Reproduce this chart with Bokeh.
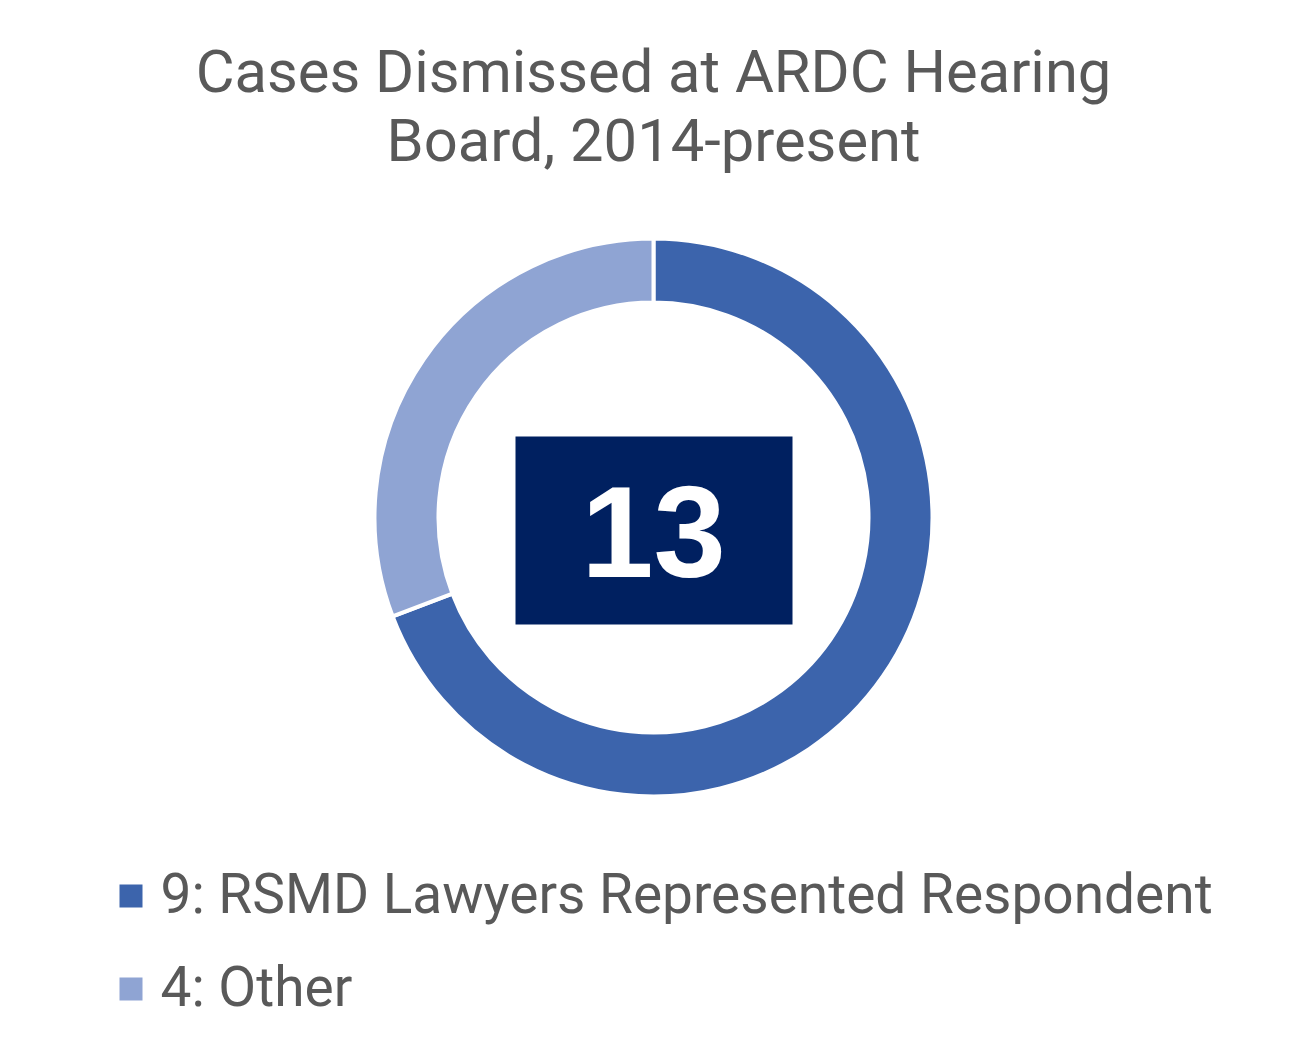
import math
from bokeh.plotting import figure
from bokeh.models import Range1d, ColumnDataSource
from bokeh.core.properties import value
from bokeh.embed import file_html
from bokeh.resources import INLINE

# ---- data ----
title_lines = ["Cases Dismissed at ARDC Hearing", "Board, 2014-present"]
categories = ["RSMD Lawyers Represented Respondent", "Other"]
counts = [9, 4]
colors = ["#3C64AC", "#8FA4D3"]
total_label = str(sum(counts))

W, H = 1290, 1040
p = figure(width=W, height=H, x_range=Range1d(0, W), y_range=Range1d(0, H),
           output_backend="svg", toolbar_location=None, min_border=0)
p.axis.visible = False
p.grid.visible = False
p.outline_line_color = None
p.background_fill_color = "white"
p.border_fill_color = "white"

TXT = "#595959"


def Y(top):
    return H - top


cx, cy = 653, Y(517)

# wedge angles (clockwise from top)
total = sum(counts)
starts, ends = [], []
a = math.pi / 2
for c in counts:
    starts.append(a)
    a = a - c / total * 2 * math.pi
    ends.append(a)

src = ColumnDataSource(dict(x=[cx] * len(counts), y=[cy] * len(counts),
                            start=starts, end=ends, color=colors))
p.annular_wedge(x="x", y="y", inner_radius=215, outer_radius=279,
                inner_radius_units="screen", outer_radius_units="screen",
                start_angle="start", end_angle="end", direction="clock",
                fill_color="color", line_color="white", line_width=4, source=src)

# centre box
p.quad(left=[515], right=[792], bottom=[Y(624)], top=[Y(436)],
       fill_color="#002060", line_color=None)
p.text(x=[cx], y=[Y(531)], text=[total_label], text_align="center",
       text_baseline="alphabetic", text_color="white",
       text_font=value("Liberation Sans"), text_font_style="bold",
       text_font_size="130px")

# title
p.text(x=[cx, cx], y=[Y(71), Y(140)], text=title_lines, text_align="center",
       text_baseline="alphabetic", text_color=TXT, text_font=value("Roboto"),
       text_font_size="59.7px")

# legend
leg_labels = [f"{c}: {n}" for c, n in zip(counts, categories)]
p.rect(x=[130.5, 130.5], y=[Y(895.5), Y(988.5)], width=23, height=23,
       width_units="screen", height_units="screen",
       fill_color=colors, line_color=None)
p.text(x=[160, 160], y=[Y(893), Y(986)], text=leg_labels, text_align="left",
       text_baseline="alphabetic", text_color=TXT, text_font=value("Roboto"),
       text_font_size="55px")

open("out.html", "w").write(file_html(p, INLINE))
